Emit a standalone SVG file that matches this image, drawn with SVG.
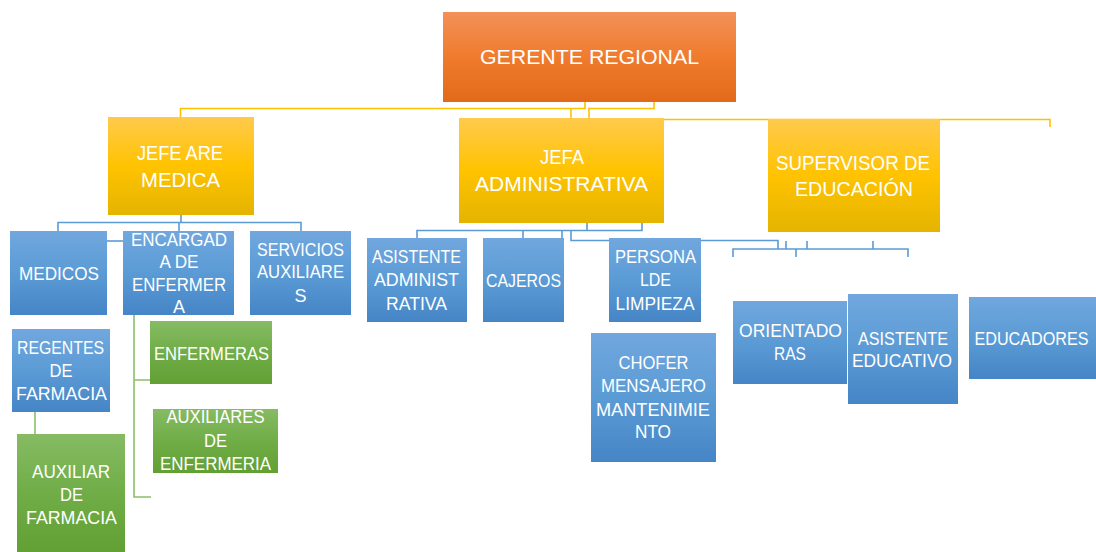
<svg xmlns="http://www.w3.org/2000/svg" width="1096" height="552" viewBox="0 0 1096 552">
<defs>
<linearGradient id="gO" x1="0" y1="0" x2="0" y2="1"><stop offset="0" stop-color="#F2915A"/><stop offset="0.5" stop-color="#F07B2D"/><stop offset="1" stop-color="#E2691A"/></linearGradient>
<linearGradient id="gY" x1="0" y1="0" x2="0" y2="1"><stop offset="0" stop-color="#FFCA4D"/><stop offset="0.5" stop-color="#FFC300"/><stop offset="1" stop-color="#E4B400"/></linearGradient>
<linearGradient id="gB" x1="0" y1="0" x2="0" y2="1"><stop offset="0" stop-color="#71A7DE"/><stop offset="0.5" stop-color="#5B9BD5"/><stop offset="1" stop-color="#4685C6"/></linearGradient>
<linearGradient id="gG" x1="0" y1="0" x2="0" y2="1"><stop offset="0" stop-color="#86BB63"/><stop offset="0.5" stop-color="#70AD47"/><stop offset="1" stop-color="#62A034"/></linearGradient>
</defs>
<style>
text{font-family:"Liberation Sans",Arial,sans-serif;fill:#FFFFFF;text-anchor:middle}
.t1 text{font-size:21px}
.t2 text{font-size:18px}
.o{fill:url(#gO)}
.y{fill:url(#gY)}
.b{fill:url(#gB)}
.g{fill:url(#gG)}
.cy{fill:none;stroke:#FFC000;stroke-width:1.6}
.cb{fill:none;stroke:#5B9BD5;stroke-width:1.6}
.cg{fill:none;stroke:#8CBF6B;stroke-width:1.6}
</style>
<rect width="1096" height="552" fill="#FFFFFF"/>
<g id="connectors">
<path class="cy" d="M585,102 V108.5 H180.5 V117"/>
<path class="cy" d="M571,108.5 V118"/>
<path class="cy" d="M654,102 V108.5 H589 V118"/>
<path class="cy" d="M600,119.5 H1050 V127"/>
<path class="cb" d="M181,215 V222.5 M58,231 V222.5 H301 V231 M179,222.5 V231"/>
<path class="cb" d="M107,241 H123"/>
<path class="cg" d="M134,315 V497 H151 M134,380 H150"/>
<path class="cg" d="M35,412 V434"/>
<path class="cb" d="M587,223 V230.5 H417 V238 M523,230.5 V238 M642,223 V230.5 H587"/>
<path class="cb" d="M562,230.5 V238 M571,230.5 V240.5 H778 V249"/>
<path class="cb" d="M786,241 V249 M807,241 V249 M873,241 V249"/>
<path class="cb" d="M733,257 V249 H908 V257 M796,249 V257"/>
</g>
<g id="n-gerente" class="t1"><rect class="o" x="443" y="12" width="293" height="90"/><text x="589.5" y="64" textLength="219" lengthAdjust="spacingAndGlyphs">GERENTE REGIONAL</text></g>
<g id="n-jefe-medica" class="t1"><rect class="y" x="108" y="117" width="146" height="98"/><text x="180" y="160" textLength="86" lengthAdjust="spacingAndGlyphs">JEFE ARE</text><text x="180.5" y="187" textLength="79" lengthAdjust="spacingAndGlyphs">MEDICA</text></g>
<g id="n-jefa-admin" class="t1"><rect class="y" x="459" y="118" width="205" height="105"/><text x="562" y="164" textLength="44" lengthAdjust="spacingAndGlyphs">JEFA</text><text x="561.5" y="191" textLength="173" lengthAdjust="spacingAndGlyphs">ADMINISTRATIVA</text></g>
<g id="n-supervisor" class="t1"><rect class="y" x="768" y="119" width="172" height="113"/><text x="853" y="170" textLength="154" lengthAdjust="spacingAndGlyphs">SUPERVISOR DE</text><text x="854" y="196" textLength="118" lengthAdjust="spacingAndGlyphs">EDUCACIÓN</text></g>
<g id="n-medicos" class="t2"><rect class="b" x="10" y="231" width="97" height="84"/><text x="59" y="280" textLength="80" lengthAdjust="spacingAndGlyphs">MEDICOS</text></g>
<g id="n-encargada" class="t2"><rect class="b" x="123" y="231" width="111" height="84"/><text x="179" y="246" textLength="96" lengthAdjust="spacingAndGlyphs">ENCARGAD</text><text x="179" y="268" textLength="39" lengthAdjust="spacingAndGlyphs">A DE</text><text x="179" y="291" textLength="94" lengthAdjust="spacingAndGlyphs">ENFERMER</text><text x="179" y="313">A</text></g>
<g id="n-servicios" class="t2"><rect class="b" x="250" y="231" width="101" height="84"/><text x="300.5" y="256" textLength="87" lengthAdjust="spacingAndGlyphs">SERVICIOS</text><text x="300.5" y="278" textLength="87" lengthAdjust="spacingAndGlyphs">AUXILIARE</text><text x="300.5" y="302">S</text></g>
<g id="n-regentes" class="t2"><rect class="b" x="12" y="329" width="98" height="83"/><text x="60.5" y="354" textLength="87" lengthAdjust="spacingAndGlyphs">REGENTES</text><text x="61" y="377" textLength="23" lengthAdjust="spacingAndGlyphs">DE</text><text x="61.5" y="400" textLength="91" lengthAdjust="spacingAndGlyphs">FARMACIA</text></g>
<g id="n-aux-farmacia" class="t2"><rect class="g" x="17" y="434" width="108" height="118"/><text x="71" y="478" textLength="78" lengthAdjust="spacingAndGlyphs">AUXILIAR</text><text x="71.5" y="501" textLength="23" lengthAdjust="spacingAndGlyphs">DE</text><text x="71.5" y="524" textLength="91" lengthAdjust="spacingAndGlyphs">FARMACIA</text></g>
<g id="n-enfermeras" class="t2"><rect class="g" x="150" y="321" width="122" height="63"/><text x="211.5" y="360" textLength="115" lengthAdjust="spacingAndGlyphs">ENFERMERAS</text></g>
<g id="n-aux-enfermeria" class="t2"><rect class="g" x="153" y="409" width="125" height="64"/><text x="215.5" y="423" textLength="98" lengthAdjust="spacingAndGlyphs">AUXILIARES</text><text x="215.5" y="447" textLength="23" lengthAdjust="spacingAndGlyphs">DE</text><text x="215.5" y="470" textLength="111" lengthAdjust="spacingAndGlyphs">ENFERMERIA</text></g>
<g id="n-asistente-admin" class="t2"><rect class="b" x="367" y="238" width="100" height="84"/><text x="416.5" y="263" textLength="89" lengthAdjust="spacingAndGlyphs">ASISTENTE</text><text x="416.5" y="286" textLength="85" lengthAdjust="spacingAndGlyphs">ADMINIST</text><text x="416.5" y="310" textLength="61" lengthAdjust="spacingAndGlyphs">RATIVA</text></g>
<g id="n-cajeros" class="t2"><rect class="b" x="483" y="238" width="81" height="84"/><text x="523.5" y="287" textLength="75" lengthAdjust="spacingAndGlyphs">CAJEROS</text></g>
<g id="n-limpieza" class="t2"><rect class="b" x="609" y="238" width="92" height="84"/><text x="655.5" y="263" textLength="81" lengthAdjust="spacingAndGlyphs">PERSONA</text><text x="655.5" y="286" textLength="31" lengthAdjust="spacingAndGlyphs">LDE</text><text x="655" y="310" textLength="79" lengthAdjust="spacingAndGlyphs">LIMPIEZA</text></g>
<g id="n-chofer" class="t2"><rect class="b" x="591" y="333" width="125" height="129"/><text x="653.5" y="369" textLength="70" lengthAdjust="spacingAndGlyphs">CHOFER</text><text x="653.5" y="392" textLength="105" lengthAdjust="spacingAndGlyphs">MENSAJERO</text><text x="653" y="416" textLength="114" lengthAdjust="spacingAndGlyphs">MANTENIMIE</text><text x="653" y="438" textLength="36" lengthAdjust="spacingAndGlyphs">NTO</text></g>
<g id="n-orientadoras" class="t2"><rect class="b" x="733" y="301" width="114" height="83"/><text x="790.5" y="337" textLength="103" lengthAdjust="spacingAndGlyphs">ORIENTADO</text><text x="790" y="360" textLength="32" lengthAdjust="spacingAndGlyphs">RAS</text></g>
<g id="n-asistente-edu" class="t2"><rect class="b" x="848" y="294" width="110" height="110"/><text x="903" y="345" textLength="90" lengthAdjust="spacingAndGlyphs">ASISTENTE</text><text x="902" y="367" textLength="100" lengthAdjust="spacingAndGlyphs">EDUCATIVO</text></g>
<g id="n-educadores" class="t2"><rect class="b" x="969" y="297" width="127" height="82"/><text x="1031.5" y="345" textLength="114" lengthAdjust="spacingAndGlyphs">EDUCADORES</text></g>
</svg>
